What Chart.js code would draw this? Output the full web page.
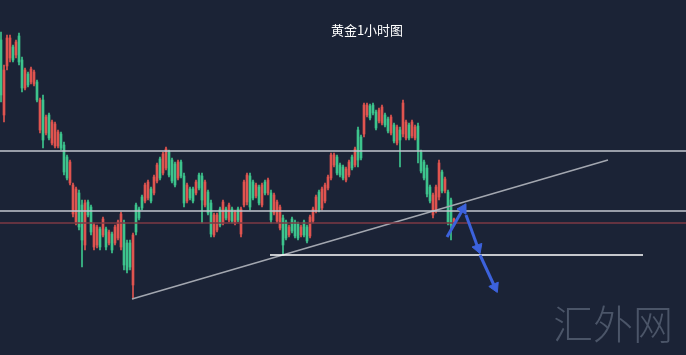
<!DOCTYPE html>
<html>
<head>
<meta charset="utf-8">
<title>黄金1小时图</title>
<script src="https://cdn.jsdelivr.net/npm/chart.js"></script>
<style>
  body { margin: 0; background: #1b2336; }
  #wrap { position: relative; width: 686px; height: 355px; background: #1b2336; overflow: hidden; }
  #title { position: absolute; left: 267px; top: 20px; width: 200px; text-align: center; color: #ffffff;
           font: 13px "Noto Sans CJK SC", sans-serif; line-height: 19px; }
  #mark { position: absolute; left: 553px; top: 302px; color: #4b5568;
          font: 300 40px "Noto Sans CJK SC", sans-serif; line-height: 40px; }
  canvas { position: absolute; left: 0; top: 0; }
</style>
</head>
<body>
<div id="wrap">
  <canvas id="chart" width="686" height="355"></canvas>
  <div id="title">黄金1小时图</div>
  <div id="mark">汇外网</div>
</div>
<script>
// 1-hour gold candles
const opens = [
  1990.5, 1993.0, 1996.2, 1996.2, 1994.0, 1995.8, 1993.8, 1991.2, 1993.0, 1991.5,
  1993.1, 1992.8, 1990.0, 1990.0, 1986.0, 1988.3, 1986.2, 1987.8, 1987.6, 1986.8,
  1985.2, 1982.8, 1982.2, 1983.8, 1981.5, 1981.1, 1977.3, 1976.0, 1979.7, 1978.5,
  1976.8, 1977.5, 1977.3, 1975.3, 1978.1, 1975.3, 1976.8, 1975.0, 1977.3, 1977.8,
  1978.6, 1973.5, 1973.0, 1973.3, 1976.5, 1976.8, 1978.2, 1979.2, 1981.5, 1981.8,
  1979.9, 1982.3, 1983.5, 1982.2, 1984.6, 1985.1, 1982.5, 1981.9, 1981.5, 1983.8,
  1982.4, 1979.7, 1981.5, 1980.2, 1979.9, 1981.8, 1981.2, 1980.0, 1981.8, 1978.7,
  1976.6, 1978.5, 1978.5, 1977.5, 1979.8, 1978.2, 1979.5, 1977.9, 1978.8, 1978.0,
  1979.1, 1981.8, 1982.5, 1979.3, 1980.2, 1981.5, 1979.7, 1981.5, 1980.7, 1982.0,
  1978.0, 1980.5, 1979.8, 1979.3, 1975.5, 1976.2, 1977.3, 1976.9, 1976.4, 1976.2,
  1977.3, 1976.5, 1975.9, 1978.3, 1979.1, 1980.3, 1979.0, 1981.1, 1981.5, 1982.3,
  1984.5, 1984.5, 1982.7, 1982.5, 1982.2, 1983.1, 1983.8, 1983.2, 1985.1, 1984.0,
  1984.2, 1989.5, 1989.5, 1988.2, 1988.7, 1987.2, 1989.0, 1989.3, 1987.5, 1986.9,
  1988.3, 1985.9, 1987.3, 1986.0, 1989.7, 1987.8, 1986.2, 1987.8, 1987.3, 1985.0,
  1982.9, 1982.2, 1980.6, 1979.9, 1980.5, 1981.3, 1983.7, 1980.9, 1982.1, 1977.8,
  1977.5, 1978.1
];
const highs = [
  1996.8, 1993.5, 1996.5, 1996.5, 1995.5, 1996.0, 1996.7, 1994.3, 1993.2, 1992.8,
  1993.3, 1993.0, 1992.0, 1990.2, 1990.5, 1988.5, 1988.7, 1988.0, 1987.8, 1987.0,
  1986.8, 1985.8, 1984.5, 1984.0, 1981.7, 1981.3, 1981.0, 1980.0, 1980.0, 1980.0,
  1979.5, 1977.7, 1977.5, 1977.3, 1978.3, 1977.3, 1977.0, 1976.8, 1977.5, 1978.0,
  1978.8, 1978.0, 1976.0, 1976.0, 1976.7, 1979.7, 1979.3, 1980.5, 1981.7, 1982.0,
  1981.3, 1982.5, 1983.7, 1984.3, 1984.8, 1985.3, 1985.0, 1984.2, 1983.8, 1984.0,
  1984.0, 1982.7, 1981.7, 1981.3, 1981.3, 1982.0, 1982.7, 1982.7, 1982.0, 1981.0,
  1980.0, 1978.7, 1978.7, 1979.3, 1980.0, 1979.3, 1979.7, 1979.3, 1979.0, 1979.3,
  1979.3, 1982.0, 1982.7, 1982.7, 1982.0, 1981.7, 1981.5, 1981.7, 1982.0, 1982.2,
  1981.0, 1980.7, 1980.0, 1979.5, 1978.5, 1978.0, 1977.5, 1978.3, 1978.0, 1977.8,
  1977.5, 1978.0, 1977.5, 1978.5, 1979.3, 1980.5, 1981.0, 1981.3, 1981.7, 1982.5,
  1984.7, 1984.7, 1984.5, 1983.7, 1983.5, 1983.3, 1984.0, 1984.5, 1985.3, 1987.3,
  1986.5, 1989.7, 1989.7, 1989.6, 1989.7, 1989.0, 1989.2, 1989.5, 1988.7, 1988.3,
  1988.5, 1987.7, 1987.5, 1987.3, 1990.0, 1988.0, 1987.7, 1988.0, 1987.5, 1987.7,
  1985.0, 1984.0, 1983.5, 1981.5, 1980.7, 1981.5, 1984.0, 1983.0, 1982.3, 1981.0,
  1980.2, 1978.2
];
const lows = [
  1989.8, 1987.8, 1993.0, 1993.8, 1993.8, 1994.2, 1993.5, 1990.8, 1991.0, 1991.3,
  1991.6, 1991.4, 1989.8, 1986.7, 1985.2, 1986.5, 1986.0, 1985.5, 1985.2, 1985.2,
  1985.0, 1982.5, 1982.0, 1981.5, 1978.3, 1977.5, 1977.0, 1973.3, 1975.0, 1978.3,
  1976.5, 1975.0, 1975.2, 1975.0, 1976.3, 1975.0, 1975.5, 1974.7, 1975.5, 1976.0,
  1975.0, 1973.0, 1972.7, 1973.0, 1970.1, 1976.5, 1978.0, 1979.0, 1979.7, 1980.0,
  1979.7, 1980.5, 1981.7, 1982.0, 1982.5, 1983.0, 1982.3, 1981.7, 1981.3, 1982.0,
  1982.2, 1979.3, 1979.7, 1980.0, 1979.7, 1980.5, 1981.0, 1977.7, 1979.3, 1978.5,
  1976.3, 1976.3, 1976.8, 1977.3, 1977.5, 1978.0, 1977.8, 1977.7, 1977.5, 1977.8,
  1976.3, 1979.3, 1979.5, 1979.0, 1980.0, 1980.2, 1979.5, 1979.3, 1980.5, 1980.5,
  1977.7, 1978.5, 1977.7, 1977.0, 1974.5, 1976.0, 1976.3, 1976.7, 1976.2, 1976.0,
  1976.3, 1976.3, 1975.7, 1976.2, 1977.7, 1978.7, 1978.8, 1979.0, 1979.7, 1981.0,
  1982.0, 1983.3, 1982.5, 1982.3, 1982.0, 1981.8, 1982.3, 1983.0, 1983.3, 1983.3,
  1984.0, 1986.3, 1988.3, 1988.0, 1988.5, 1987.0, 1987.7, 1987.5, 1987.3, 1986.7,
  1986.5, 1985.7, 1985.5, 1983.3, 1986.3, 1986.0, 1986.0, 1986.2, 1986.0, 1983.7,
  1982.7, 1982.0, 1980.3, 1979.7, 1978.2, 1978.7, 1980.0, 1980.7, 1980.7, 1977.5,
  1976.0, 1977.4
];
const closes = [
  1996.0, 1988.5, 1993.4, 1994.2, 1995.3, 1994.5, 1996.4, 1994.0, 1991.2, 1992.6,
  1991.8, 1991.6, 1991.8, 1987.0, 1990.0, 1986.7, 1988.5, 1985.7, 1985.4, 1985.4,
  1986.6, 1985.5, 1984.3, 1981.7, 1978.6, 1977.8, 1980.7, 1979.5, 1975.5, 1979.8,
  1979.3, 1975.3, 1975.5, 1977.1, 1976.5, 1977.1, 1975.7, 1976.6, 1975.7, 1976.2,
  1975.3, 1977.7, 1975.7, 1975.7, 1971.5, 1979.5, 1979.1, 1980.3, 1979.9, 1980.2,
  1981.1, 1980.7, 1981.9, 1984.1, 1982.7, 1983.2, 1984.8, 1984.0, 1983.6, 1982.2,
  1983.8, 1982.4, 1979.9, 1981.1, 1981.1, 1980.7, 1982.5, 1982.4, 1979.5, 1980.8,
  1979.7, 1976.5, 1977.0, 1979.1, 1977.7, 1979.1, 1978.0, 1979.1, 1977.7, 1979.1,
  1976.6, 1979.5, 1979.8, 1982.4, 1981.8, 1980.4, 1981.3, 1979.5, 1981.8, 1980.7,
  1980.7, 1978.7, 1977.9, 1977.2, 1978.2, 1977.8, 1976.5, 1978.1, 1977.8, 1977.6,
  1976.5, 1977.8, 1977.3, 1976.4, 1977.9, 1978.9, 1980.8, 1979.2, 1979.9, 1981.2,
  1982.2, 1983.5, 1984.3, 1983.5, 1983.3, 1982.0, 1982.5, 1984.3, 1983.5, 1987.0,
  1986.3, 1986.6, 1988.5, 1989.4, 1989.5, 1988.8, 1987.9, 1987.7, 1988.5, 1988.1,
  1986.7, 1987.5, 1985.7, 1987.0, 1986.6, 1986.2, 1987.5, 1986.4, 1986.2, 1987.4,
  1984.8, 1983.8, 1983.2, 1981.3, 1978.5, 1979.0, 1980.3, 1982.8, 1980.9, 1980.8,
  1980.0, 1977.5
];

// drawn levels (price) and where they start/end (bar index)
const X_MIN = -0.3333, X_MAX = 228.3333;
const Y_MIN = 1964.5, Y_MAX = 2000;
const upperLevel = 1984.9;
const middleLevel = 1978.9;
const redLevel = 1977.7;
const supportLevel = 1974.5, supportFrom = 89.67, supportTo = 214;
const trendX = [43.67, 202.33];
const trendY = [1970.1, 1984.0];
// projected path: [x0, y0, x1, y1] per arrow
const arrowPath = [
  [148.67, 1976.3, 154.0, 1979.1],
  [155.0, 1978.5, 159.0, 1975.2],
  [159.67, 1974.5, 164.6, 1971.3]
];

const GREEN = '#3dc48d';
const RED = '#e0544f';
const BLUE = '#3c62dc';

const isUp = i => closes[i] >= opens[i];
const candleColor = ctx => isUp(ctx.dataIndex) ? GREEN : RED;

const wicks = opens.map((_, i) => ({ x: i, y: [lows[i], highs[i]] }));
const bodies = opens.map((_, i) => ({ x: i, y: [opens[i], closes[i]] }));

function hLine(y, x0, x1, color, width) {
  return {
    type: 'line', order: 1,
    data: [{ x: x0, y: y }, { x: x1, y: y }],
    borderColor: color, borderWidth: width, pointRadius: 0
  };
}

const arrowSets = arrowPath.map(a => ({
  type: 'line', order: 0,
  data: [{ x: a[0], y: a[1] }, { x: a[2], y: a[3] }],
  borderColor: BLUE, borderWidth: 3,
  pointStyle: 'triangle',
  pointRadius: ctx => ctx.dataIndex === 1 ? 6 : 0,
  pointBackgroundColor: BLUE, pointBorderColor: BLUE, pointBorderWidth: 1,
  pointRotation: ctx => {
    const xs = ctx.chart.scales.x, ys = ctx.chart.scales.y;
    const dx = xs.getPixelForValue(a[2]) - xs.getPixelForValue(a[0]);
    const dy = ys.getPixelForValue(a[3]) - ys.getPixelForValue(a[1]);
    return Math.atan2(dx, -dy) * 180 / Math.PI;
  }
}));

new Chart(document.getElementById('chart'), {
  type: 'bar',
  data: {
    datasets: [
      ...arrowSets,
      hLine(upperLevel, X_MIN, X_MAX, '#c3c7cf', 1.3),
      hLine(middleLevel, X_MIN, X_MAX, '#c3c7cf', 1.3),
      hLine(redLevel, X_MIN, X_MAX, '#7e3a44', 1.3),
      hLine(supportLevel, supportFrom, supportTo, '#ffffff', 1.5),
      {
        type: 'line', order: 1,
        data: [{ x: trendX[0], y: trendY[0] }, { x: trendX[1], y: trendY[1] }],
        borderColor: '#a3a7b0', borderWidth: 1.5, pointRadius: 0
      },
      {
        label: 'body', order: 2, data: bodies,
        backgroundColor: candleColor, barThickness: 2, grouped: false, borderWidth: 0
      },
      {
        label: 'wick', order: 3, data: wicks,
        backgroundColor: candleColor, barThickness: 1, grouped: false, borderWidth: 0
      }
    ]
  },
  options: {
    responsive: false,
    devicePixelRatio: 1,
    animation: false,
    layout: { padding: 0, autoPadding: false },
    plugins: { legend: { display: false }, tooltip: { enabled: false }, title: { display: false } },
    scales: {
      x: { type: 'linear', min: X_MIN, max: X_MAX, offset: false, display: false },
      y: { type: 'linear', min: Y_MIN, max: Y_MAX, display: false }
    }
  }
});
</script>
</body>
</html>
